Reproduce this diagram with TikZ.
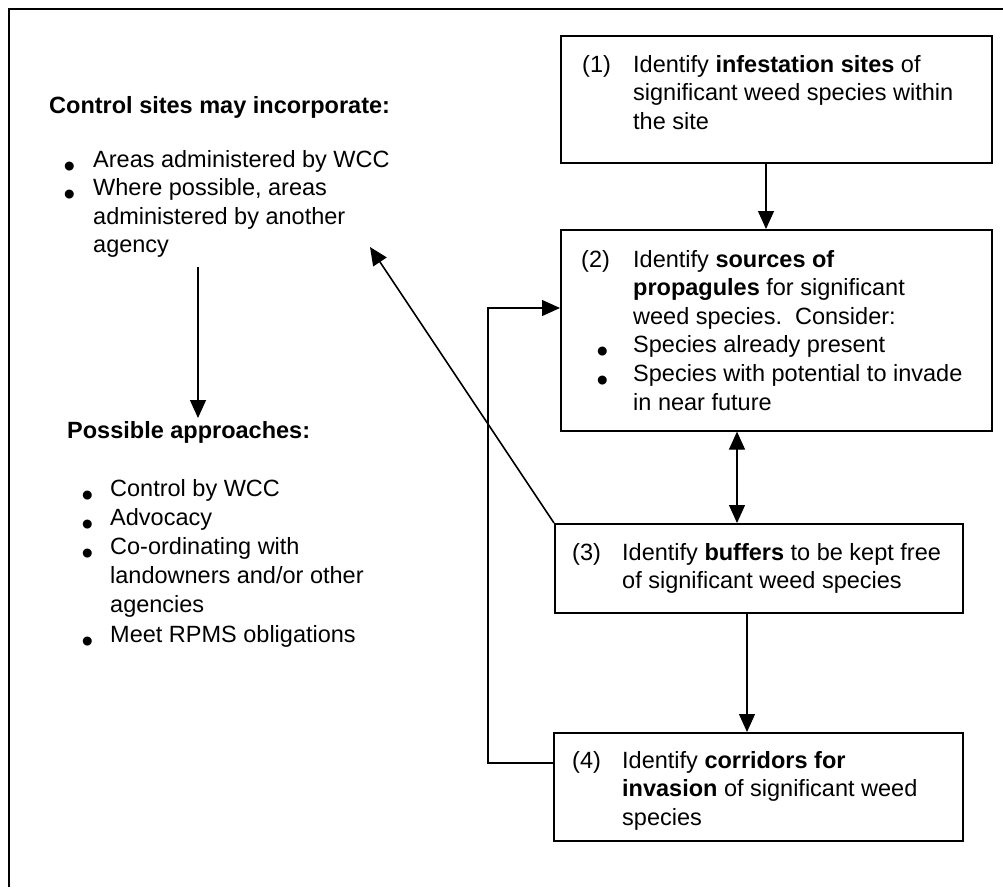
\documentclass[tikz,border=0pt]{standalone}
\usepackage{fontspec}
\setmainfont{Liberation Sans}
\usetikzlibrary{arrows.meta}
\newcommand{\bul}[1]{\llap{\smash{\raisebox{-10pt}{\fontsize{33}{33}\selectfont\textbullet}}\hspace{#1}}}
\begin{document}
\begin{tikzpicture}[x=1pt,y=-1pt,
  box/.style={draw,line width=1.6pt,inner sep=0pt,anchor=north west},
  txt/.style={anchor=base west,inner sep=0pt,align=left,font=\fontsize{23.5}{28.6}\selectfont},
  arr/.style={line width=1.2pt,-{Triangle[length=18pt,width=16pt]}},
  darr/.style={line width=1.2pt,{Triangle[length=18pt,width=16pt]}-{Triangle[length=18pt,width=16pt]}}]
\useasboundingbox (0,0) rectangle (1003,887);
% frame
\draw[line width=1.6pt] (9,887) -- (9,9) -- (1003,9);
% boxes
\node[box,minimum width=431pt,minimum height=127pt] (b1) at (560,35) {};
\node[box,minimum width=431pt,minimum height=201pt] (b2) at (560,229) {};
\node[box,minimum width=408pt,minimum height=89pt] (b3) at (554,523) {};
\node[box,minimum width=409pt,minimum height=108pt] (b4) at (553,732) {};
% box texts (multi-line nodes are anchored at the baseline of their last line)
\node[txt] (n1) at (582,72) {(1)};
\node[txt] (t1) at (633,129.2) {Identify \textbf{infestation sites} of\\significant weed species within\\the site};
\node[txt] (n2) at (581,267) {(2)};
\node[txt] (t2) at (633,410) {Identify \textbf{sources of}\\\textbf{propagules} for significant\\weed species.\ \ Consider:\\\bul{25pt}Species already present\\\bul{25pt}Species with potential to invade\\in near future};
\node[txt] (n3) at (572,560) {(3)};
\node[txt] (t3) at (622,588.6) {Identify \textbf{buffers} to be kept free\\of significant weed species};
\node[txt] (n4) at (572,768) {(4)};
\node[txt] (t4) at (622,825.2) {Identify \textbf{corridors for}\\\textbf{invasion} of significant weed\\species};
% left texts
\node[txt] (h1) at (49,113) {\textbf{Control sites may incorporate:}};
\node[txt] (l1) at (93,252.8) {\bul{18pt}Areas administered by WCC\\\bul{18pt}Where possible, areas\\administered by another\\agency};
\node[txt] (h2) at (67,438) {\textbf{Possible approaches:}};
\node[txt,font=\fontsize{23.5}{29.2}\selectfont] (l2) at (110,642) {\bul{17pt}Control by WCC\\\bul{17pt}Advocacy\\\bul{17pt}Co-ordinating with\\landowners and/or other\\agencies\\\bul{17pt}Meet RPMS obligations};
% connectors
\coordinate (x766) at (766,0);
\coordinate (x737) at (737,0);
\coordinate (x747) at (747,0);
\coordinate (fb1) at (488,763);
\coordinate (fb2) at (488,308);
\coordinate (a1s) at (198,267);
\coordinate (a1e) at (198,418);
\coordinate (dtip) at (370,247);
\draw[arr] (x766 |- b1.south) -- (x766 |- b2.north);
\draw[darr] (x737 |- b2.south) -- (x737 |- b3.north);
\draw[arr] (x747 |- b3.south) -- (x747 |- b4.north);
\draw[arr] (fb1 -| b4.west) -- (fb1) -- (fb2) -- (fb2 -| b2.west);
\draw[arr,line width=1.6pt] (b3.north west) -- (dtip);
\draw[arr] (a1s) -- (a1e);
\end{tikzpicture}
\end{document}
